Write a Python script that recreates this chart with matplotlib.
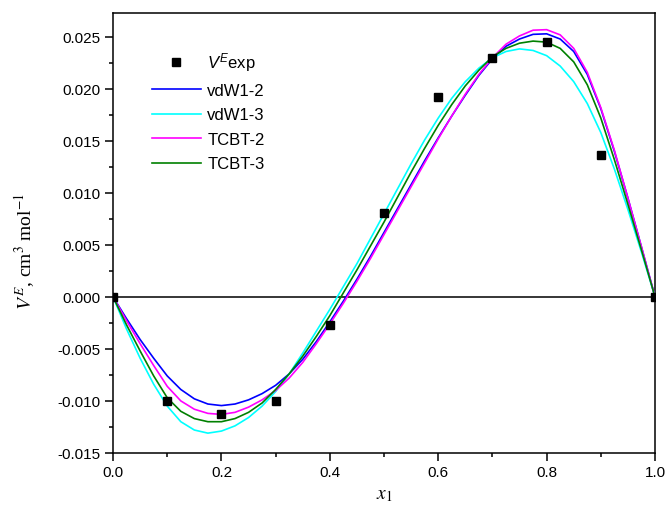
import matplotlib
matplotlib.use("Agg")
import matplotlib.pyplot as plt
from matplotlib.ticker import MultipleLocator, FormatStrFormatter

# experimental excess volumes
x_exp = [0.0, 0.1, 0.2, 0.3, 0.4, 0.5, 0.6, 0.7, 0.8, 0.9, 1.0]
v_exp = [0.0, -0.0100, -0.0113, -0.0100, -0.0027, 0.0081, 0.0192, 0.0230, 0.0245, 0.0136, 0.0]

# model curves, every 0.025
x_fit = [0.000, 0.025, 0.050, 0.075, 0.100, 0.125, 0.150, 0.175, 0.200, 0.225,
         0.250, 0.275, 0.300, 0.325, 0.350, 0.375, 0.400, 0.425, 0.450, 0.475,
         0.500, 0.525, 0.550, 0.575, 0.600, 0.625, 0.650, 0.675, 0.700, 0.725,
         0.750, 0.775, 0.800, 0.825, 0.850, 0.875, 0.900, 0.925, 0.950, 0.975, 1.000]
vdw12 = [0.0, -0.0021, -0.0041, -0.0059, -0.0076, -0.0089, -0.0098, -0.0103, -0.01045, -0.0103,
         -0.0099, -0.0093, -0.0085, -0.0074, -0.0060, -0.0043, -0.0024, -0.0004, 0.0017, 0.0039,
         0.0062, 0.0085, 0.0108, 0.0131, 0.0153, 0.0174, 0.0194, 0.0213, 0.0229, 0.0241,
         0.0248, 0.02525, 0.0253, 0.0248, 0.0236, 0.0214, 0.0181, 0.0140, 0.0095, 0.0048, 0.0]
vdw13 = [0.0, -0.0031, -0.0059, -0.0084, -0.0105, -0.0120, -0.0128, -0.0131, -0.0129, -0.0124,
         -0.0116, -0.0105, -0.0091, -0.0074, -0.0054, -0.0033, -0.0012, 0.0010, 0.0032, 0.0056,
         0.0080, 0.0104, 0.0128, 0.0151, 0.0172, 0.0191, 0.0207, 0.0220, 0.0230, 0.0236,
         0.02385, 0.0237, 0.0232, 0.0222, 0.0207, 0.0186, 0.0158, 0.0123, 0.0084, 0.0043, 0.0]
tcbt2 = [0.0, -0.0023, -0.0045, -0.0066, -0.0086, -0.0100, -0.0108, -0.0112, -0.0113, -0.0111,
         -0.0106, -0.0099, -0.0090, -0.0078, -0.0063, -0.0045, -0.0026, -0.0006, 0.0015, 0.0037,
         0.0060, 0.0083, 0.0106, 0.0129, 0.0152, 0.0174, 0.0195, 0.0214, 0.0230, 0.0243,
         0.0251, 0.02565, 0.0257, 0.0252, 0.0239, 0.0216, 0.0182, 0.0141, 0.0095, 0.0048, 0.0]
tcbt3 = [0.0, -0.0027, -0.0052, -0.0076, -0.0097, -0.0110, -0.0117, -0.0120, -0.0120, -0.0117,
         -0.0111, -0.0102, -0.0089, -0.0074, -0.0057, -0.0038, -0.0018, 0.0004, 0.0026, 0.0049,
         0.0072, 0.0096, 0.0120, 0.0143, 0.0165, 0.0185, 0.0203, 0.0218, 0.0231, 0.0239,
         0.0244, 0.0246, 0.0245, 0.0239, 0.0226, 0.0204, 0.0172, 0.0132, 0.0089, 0.0045, 0.0]

curves = [
    (vdw12, "vdW1-2", "#0000ff"),
    (vdw13, "vdW1-3", "#00ffff"),
    (tcbt2, "TCBT-2", "#ff00ff"),
    (tcbt3, "TCBT-3", "#008000"),
]

plt.rcParams["font.family"] = "Liberation Sans"
plt.rcParams["mathtext.fontset"] = "custom"
plt.rcParams["mathtext.it"] = "Liberation Sans:italic"
plt.rcParams["mathtext.rm"] = "Liberation Sans"

fig = plt.figure(figsize=(6.65, 5.10), dpi=100)
ax = fig.add_axes([0.170, 0.110, 0.815, 0.8625])

ax.axhline(0, color="black", lw=1.1, zorder=1)
ax.plot(x_exp, v_exp, "s", color="black", ms=6.3, ls="none",
        label="$V^E$exp", zorder=5)
for vals, name, col in curves:
    ax.plot(x_fit, vals, color=col, lw=1.2, label=name, zorder=3)

ax.set_xlim(0, 1.0)
ax.set_ylim(-0.015, 0.0273)
ax.xaxis.set_major_locator(MultipleLocator(0.2))
ax.xaxis.set_minor_locator(MultipleLocator(0.1))
ax.yaxis.set_major_locator(MultipleLocator(0.005))
ax.yaxis.set_minor_locator(MultipleLocator(0.0025))
ax.xaxis.set_major_formatter(FormatStrFormatter("%.1f"))
ax.yaxis.set_major_formatter(FormatStrFormatter("%.3f"))
ax.tick_params(which="both", direction="out", top=False, right=False,
               labelsize=11, width=1.1)
ax.tick_params(which="major", length=5.5)
ax.tick_params(which="minor", length=3)
for s in ax.spines.values():
    s.set_linewidth(1.1)

ax.set_xlabel("$x_1$", fontsize=14, math_fontfamily="stix", labelpad=5)
ax.set_ylabel("$V^E$, cm$^3$ mol$^{-1}$", fontsize=14, family="Liberation Serif",
              math_fontfamily="stix")
ax.yaxis.set_label_coords(-0.14, 0.46)

leg = ax.legend(loc="upper left", bbox_to_anchor=(0.06, 0.93), frameon=False,
                fontsize=12, handlelength=2.9, handletextpad=0.4,
                labelspacing=0.57, borderaxespad=0)

fig.savefig("out.png", dpi=100)
